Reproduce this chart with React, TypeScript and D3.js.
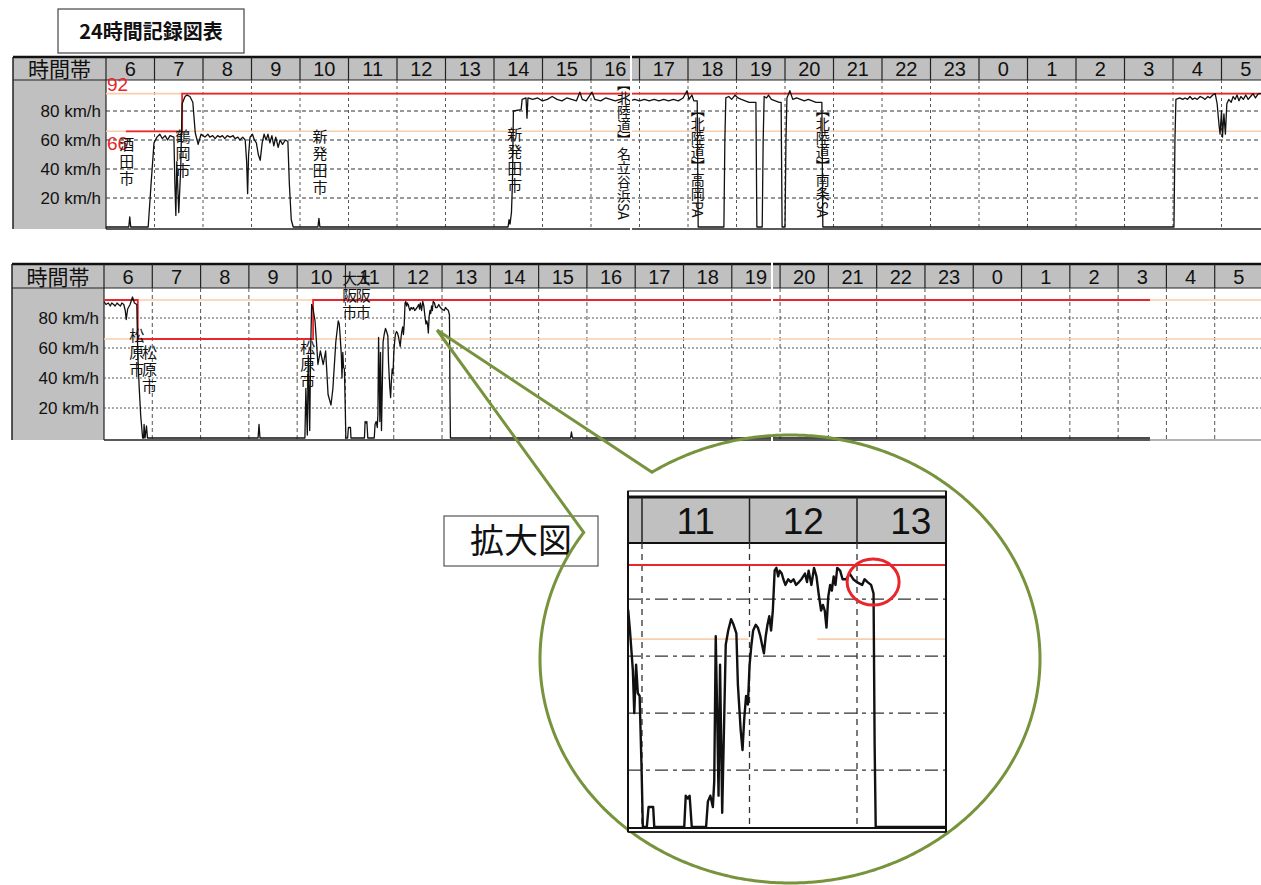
import React from 'react';
import * as d3 from 'd3';

const W = 1261;
const H = 885;

// hour columns start at 6 o'clock and run for 24 hours (6..29 = 6:00 .. 5:00 next day)
const hourLabels = d3.range(24).map(i => String((6 + i) % 24));
const speedTicks = [20, 40, 60, 80];

// upper record: [clock hour, km/h]
const topTrace: [number, number][] = [
  [6.0, 0], [6.47, 0], [6.49, 7], [6.51, 0], [6.87, 0], [6.93, 30], [6.99, 58], [7.05, 62], [7.11, 64],
  [7.16, 61], [7.22, 63], [7.27, 60], [7.32, 63], [7.4, 62], [7.42, 30], [7.44, 8], [7.46, 45], [7.5, 10],
  [7.54, 40], [7.57, 85], [7.63, 90], [7.67, 91], [7.73, 90], [7.79, 86], [7.84, 65], [7.9, 57], [7.96, 64],
  [8.04, 62], [8.1, 64], [8.14, 62], [8.2, 63], [8.25, 61], [8.3, 63], [8.35, 62], [8.4, 63], [8.45, 61],
  [8.5, 63], [8.56, 62], [8.62, 63], [8.66, 61], [8.72, 62], [8.76, 60], [8.82, 62], [8.87, 60], [8.9, 45],
  [8.92, 23], [8.94, 50], [8.97, 62], [9.02, 64], [9.06, 60], [9.1, 58], [9.14, 50], [9.18, 46], [9.22, 58],
  [9.26, 64], [9.3, 60], [9.34, 64], [9.38, 58], [9.42, 63], [9.46, 56], [9.5, 62], [9.55, 55], [9.59, 60],
  [9.64, 57], [9.7, 60], [9.75, 59], [9.78, 30], [9.82, 5], [9.86, 0], [10.37, 0], [10.39, 6], [10.41, 0],
  [14.29, 0], [14.31, 5], [14.33, 2], [14.36, 10], [14.38, 30], [14.4, 80], [14.56, 81], [14.58, 88],
  [14.66, 89], [14.68, 75], [14.7, 89], [14.8, 88], [14.9, 89], [15.0, 87], [15.1, 88], [15.2, 90],
  [15.3, 88], [15.4, 87], [15.5, 89], [15.6, 88], [15.7, 87], [15.77, 93], [15.82, 88], [15.9, 87],
  [16.02, 93], [16.08, 88], [16.2, 87], [16.3, 89], [16.4, 88], [16.5, 87], [16.6, 88], [16.7, 89],
  [16.8, 87], [16.9, 88], [17.0, 87], [17.1, 88], [17.2, 87], [17.3, 88], [17.4, 87], [17.5, 88],
  [17.6, 87], [17.7, 88], [17.8, 87], [17.9, 89], [17.98, 94], [18.02, 88], [18.08, 91], [18.12, 87],
  [18.19, 87], [18.21, 0], [18.74, 0], [18.76, 60], [18.78, 89], [18.84, 90], [18.9, 88], [18.97, 91],
  [19.03, 89], [19.1, 88], [19.18, 87], [19.26, 86], [19.36, 86], [19.4, 86], [19.42, 0], [19.53, 0],
  [19.55, 60], [19.57, 90], [19.62, 89], [19.66, 91], [19.72, 88], [19.8, 87], [19.88, 86], [19.92, 86],
  [19.94, 0], [20.0, 0], [20.02, 60], [20.04, 89], [20.1, 94], [20.16, 88], [20.24, 89], [20.32, 88],
  [20.4, 87], [20.48, 88], [20.56, 87], [20.64, 86], [20.72, 86], [20.76, 86], [20.78, 0], [28.02, 0],
  [28.04, 60], [28.06, 88], [28.14, 89], [28.2, 88], [28.25, 89], [28.3, 88], [28.35, 90], [28.4, 88],
  [28.45, 89], [28.5, 88], [28.56, 90], [28.62, 89], [28.66, 88], [28.72, 90], [28.76, 89], [28.82, 91],
  [28.87, 92], [28.91, 85], [28.95, 70], [28.97, 64], [29.0, 80], [29.02, 62], [29.05, 78], [29.08, 64],
  [29.11, 85], [29.15, 88], [29.2, 86], [29.24, 90], [29.28, 88], [29.32, 91], [29.36, 87], [29.4, 90],
  [29.45, 88], [29.5, 91], [29.55, 88], [29.6, 90], [29.65, 92], [29.7, 89], [29.76, 92], [29.85, 92],
];

// lower record: [clock hour, km/h]
const bottomTrace: [number, number][] = [
  [6.0, 91], [6.04, 89], [6.09, 90], [6.13, 88], [6.16, 90], [6.2, 89], [6.23, 88], [6.27, 90], [6.3, 89],
  [6.34, 88], [6.37, 90], [6.41, 89], [6.44, 85], [6.46, 79], [6.49, 86], [6.54, 89], [6.59, 94], [6.63, 90],
  [6.68, 89], [6.7, 55], [6.73, 33], [6.76, 15], [6.8, 0], [6.82, 0], [6.83, 9], [6.85, 0], [6.88, 8],
  [6.9, 0], [9.19, 0], [9.21, 9], [9.23, 0], [10.16, 0], [10.18, 33], [10.21, 2], [10.23, 55], [10.26, 5],
  [10.28, 60], [10.3, 89], [10.33, 86], [10.37, 78], [10.4, 64], [10.43, 49], [10.48, 58], [10.54, 49],
  [10.59, 58], [10.64, 29], [10.7, 22], [10.74, 33], [10.8, 64], [10.85, 78], [10.872, 76], [10.888, 69],
  [10.915, 55], [10.928, 40], [10.945, 57], [10.961, 47], [10.978, 46], [10.995, 22], [11.008, 0],
  [11.045, 0], [11.061, 7], [11.104, 7], [11.114, 0], [11.393, 0], [11.407, 11], [11.427, 10], [11.443, 11],
  [11.463, 0], [11.596, 0], [11.613, 9], [11.636, 11], [11.659, 7], [11.672, 16], [11.686, 67], [11.702, 34],
  [11.712, 11], [11.726, 57], [11.746, 5], [11.759, 28], [11.779, 64], [11.802, 69], [11.829, 73],
  [11.852, 71], [11.878, 68], [11.892, 50], [11.918, 34], [11.935, 27], [11.951, 38], [11.968, 46],
  [11.985, 43], [12.001, 57], [12.018, 64], [12.034, 69], [12.058, 71], [12.078, 70], [12.101, 67],
  [12.117, 64], [12.134, 61], [12.151, 67], [12.167, 71], [12.184, 74], [12.201, 69], [12.217, 76],
  [12.234, 90], [12.25, 91], [12.267, 88], [12.28, 90], [12.3, 89], [12.315, 87], [12.334, 85], [12.36, 87],
  [12.383, 86], [12.41, 87], [12.433, 85], [12.46, 86], [12.483, 87], [12.516, 89], [12.535, 86],
  [12.55, 90], [12.576, 85], [12.6, 91], [12.623, 88], [12.643, 82], [12.666, 76], [12.683, 78], [12.7, 76],
  [12.716, 70], [12.733, 81], [12.75, 85], [12.766, 83], [12.783, 88], [12.8, 85], [12.816, 91],
  [12.843, 90], [12.866, 87], [12.899, 87], [12.932, 89], [12.965, 87], [12.998, 86], [13.048, 85],
  [13.07, 87], [13.098, 86], [13.131, 85], [13.154, 82], [13.164, 29], [13.174, 0], [15.66, 0], [15.68, 4],
  [15.7, 0], [27.66, 0],
];

// posted limits as steps: [from hour, km/h]
const topLimits: [number, number][] = [[6.41, 66], [7.57, 92], [30, 92]];
const bottomLimits: [number, number][] = [[6.0, 92], [6.7, 66], [10.33, 92], [27.66, 92]];
const limitLevels = [92, 66];

// place names along the record: hour and the km/h level where the text begins
const topPlaces = [
  { name: '酒田市', hour: 6.43, speed: 62 },
  { name: '鶴岡市', hour: 7.59, speed: 67.5 },
  { name: '新発田市', hour: 10.41, speed: 67.5 },
  { name: '新発田市', hour: 14.43, speed: 69 },
  { name: '【北陸道】名立谷浜SA', hour: 16.68, speed: 103.5 },
  { name: '【北陸道】高岡PA', hour: 18.2, speed: 85.5 },
  { name: '【北陸道】南条SA', hour: 20.78, speed: 85.5 },
];
const bottomPlaces = [
  { name: '松原市', hour: 6.68, speed: 73.7 },
  { name: '松原市', hour: 6.94, speed: 62.3 },
  { name: '松原市', hour: 10.22, speed: 65.7 },
  { name: '大阪市', hour: 11.09, speed: 111.7 },
  { name: '大阪市', hour: 11.37, speed: 111.7 },
];

// magnified window
const insetHours = [11, 12, 13];
const insetGuideSpans: [number, number][] = [[10.87, 11.99], [12.63, 13.83]];

const JP = "'Noto Sans CJK JP', 'Noto Sans', sans-serif";
const NUM = "'Liberation Sans Narrow', 'Liberation Sans', Arial, sans-serif";
const SANS = "'Liberation Sans', Arial, sans-serif";
const RED = '#e8262b';
const PALE = '#f8cfae';
const GREEN = '#77933c';

type Geo = {
  left: number; lab: number; right: number; hTop: number; hBot: number; bot: number;
  x0: number; x1: number; y0: number; y1: number; breakX: number;
};

// tategaki label (vertical writing)
function VerticalLabel({ name, x, y }: { name: string; x: number; y: number }) {
  const road = name.startsWith('【');
  return (
    <text x={x} y={y} fontFamily={JP} fontSize={road ? 14 : 15} letterSpacing={road ? 0 : 2} fill="#111"
      style={{ writingMode: 'vertical-rl' } as React.CSSProperties}>
      {name}
    </text>
  );
}

function Panel({ id, g, trace, limits, places, grid, limitText, zeroEnd }: {
  id: string; g: Geo; trace: [number, number][]; limits: [number, number][];
  places: { name: string; hour: number; speed: number }[];
  grid: { h: string; v: string; hc: string }; limitText: boolean; zeroEnd?: number;
}) {
  const x = d3.scaleLinear().domain([6, 30]).range([g.x0, g.x1]);
  const y = d3.scaleLinear().domain([0, 100]).range([g.y0, g.y1]);
  const line = d3.line<[number, number]>().x(d => x(d[0])).y(d => y(d[1]));
  const step = d3.line<[number, number]>().x(d => x(d[0])).y(d => y(d[1])).curve(d3.curveStepAfter);
  const bounds = d3.range(7, 30);
  const bottomBlackEnd = zeroEnd !== undefined ? x(zeroEnd) : g.right;

  return (
    <g>
      <defs>
        <clipPath id={id}>
          <rect x={g.lab} y={g.hBot} width={g.right - g.lab} height={g.bot - g.hBot + 1} />
        </clipPath>
      </defs>
      {/* header band */}
      <rect x={g.left} y={g.hTop} width={g.right - g.left} height={g.hBot - g.hTop} fill="#c0c0c0" />
      <rect x={g.left} y={g.hBot} width={g.lab - g.left} height={g.bot - g.hBot} fill="#c0c0c0" />
      <line x1={g.left} x2={g.right} y1={g.hTop} y2={g.hTop} stroke="#111" strokeWidth={2.5} />
      <line x1={g.left} x2={g.right} y1={g.hBot} y2={g.hBot} stroke="#222" strokeWidth={1.2} />
      <line x1={g.left} x2={g.left} y1={g.hTop} y2={g.bot} stroke="#222" strokeWidth={1.5} />
      <line x1={g.lab} x2={g.lab} y1={g.hTop} y2={g.bot} stroke="#222" strokeWidth={1.2} />
      {bounds.map(h => (
        <line key={'hs' + h} x1={x(h)} x2={x(h)} y1={g.hTop} y2={g.hBot} stroke="#222" strokeWidth={1.2} />
      ))}
      <text x={(g.left + g.lab) / 2} y={g.hBot - 3.5} textAnchor="middle" fontFamily={JP} fontSize={21} fill="#111">時間帯</text>
      {hourLabels.map((t, i) => (
        <text key={'hl' + i} x={x(6 + i + 0.5)} y={g.hBot - 4} textAnchor="middle" fontFamily={NUM} fontSize={20} fill="#111">{t}</text>
      ))}
      {speedTicks.map(v => (
        <text key={'yl' + v} x={g.lab - 5} y={y(v) + 6} textAnchor="end" fontFamily={SANS} fontSize={17} fill="#111">{v} km/h</text>
      ))}

      <g clipPath={`url(#${id})`}>
        {/* grid */}
        {speedTicks.map(v => (
          <line key={'gh' + v} x1={g.lab} x2={g.right} y1={y(v)} y2={y(v)} stroke={grid.hc} strokeWidth={1} strokeDasharray={grid.h} />
        ))}
        {bounds.map(h => (
          <line key={'gv' + h} x1={x(h)} x2={x(h)} y1={g.hBot} y2={g.bot} stroke="#555" strokeWidth={1} strokeDasharray={grid.v} />
        ))}
        {/* pale reference levels */}
        {limitLevels.map(v => (
          <line key={'pl' + v} x1={g.lab} x2={g.right} y1={y(v)} y2={y(v)} stroke={PALE} strokeWidth={1.6} />
        ))}
        <path d={step(limits) ?? ''} fill="none" stroke={RED} strokeWidth={1.8} />
        <path d={line(trace) ?? ''} fill="none" stroke="#111" strokeWidth={1.3} strokeLinejoin="round" />
      </g>

      <line x1={g.lab} x2={bottomBlackEnd} y1={g.bot} y2={g.bot} stroke="#222" strokeWidth={1.5} />
      {zeroEnd !== undefined && (
        <line x1={bottomBlackEnd} x2={g.right} y1={g.bot} y2={g.bot} stroke="#999" strokeWidth={1.5} />
      )}

      {limitText && (
        <g fontFamily={NUM} fontSize={19} fill={RED}>
          <text x={g.lab + 1} y={y(92) - 3}>92</text>
          <text x={g.lab + 1} y={y(66) + 19}>66</text>
        </g>
      )}

      {places.map((p, i) => (
        <VerticalLabel key={'pn' + i} name={p.name} x={x(p.hour)} y={y(p.speed)} />
      ))}

      {/* seam between the two pasted halves */}
      <line x1={g.breakX} x2={g.breakX} y1={g.hTop - 2} y2={g.bot + 2} stroke="#fff" strokeWidth={2} />
    </g>
  );
}

function Inset() {
  const L = 628, R = 946, T = 491, HB = 543, B = 829;
  const x = d3.scaleLinear().domain([11, 13]).range([642, 857]);
  const y = d3.scaleLinear().domain([0, 92]).range([827, 565]);
  const line = d3.line<[number, number]>().x(d => x(d[0])).y(d => y(d[1]));
  return (
    <g>
      <defs>
        <clipPath id="inset-clip">
          <rect x={L} y={HB} width={R - L} height={B - HB} />
        </clipPath>
      </defs>
      <rect x={L} y={T} width={R - L} height={B - T + 3} fill="#fff" stroke="#222" strokeWidth={1.2} />
      <rect x={L} y={T + 5} width={R - L} height={HB - T - 5} fill="#c0c0c0" />
      <line x1={L} x2={R} y1={T + 6} y2={T + 6} stroke="#111" strokeWidth={3} />
      <line x1={L} x2={R} y1={HB} y2={HB} stroke="#111" strokeWidth={2} />
      {insetHours.map(h => (
        <line key={'is' + h} x1={x(h)} x2={x(h)} y1={T + 6} y2={HB} stroke="#222" strokeWidth={1.5} />
      ))}
      {insetHours.map(h => (
        <text key={'it' + h} x={x(h + 0.5)} y={HB - 9} textAnchor="middle" fontFamily={SANS} fontSize={37} fill="#111">{h}</text>
      ))}
      <g clipPath="url(#inset-clip)">
        {speedTicks.map(v => (
          <line key={'ih' + v} x1={L} x2={R} y1={y(v)} y2={y(v)} stroke="#333" strokeWidth={1.3} strokeDasharray="13,5,4,5" />
        ))}
        {insetHours.map(h => (
          <line key={'iv' + h} x1={x(h)} x2={x(h)} y1={HB} y2={B} stroke="#333" strokeWidth={1.3} strokeDasharray="6,5" />
        ))}
        {insetGuideSpans.map(([a, b], i) => (
          <line key={'ig' + i} x1={x(a)} x2={x(b)} y1={y(66)} y2={y(66)} stroke={PALE} strokeWidth={1.8} />
        ))}
        <line x1={L} x2={R} y1={y(92)} y2={y(92)} stroke={RED} strokeWidth={2} />
        <path d={line(bottomTrace) ?? ''} fill="none" stroke="#111" strokeWidth={2.4} strokeLinejoin="round" />
      </g>
      <line x1={L} x2={R} y1={B - 1} y2={B - 1} stroke="#111" strokeWidth={2} />
      <line x1={L} x2={R} y1={B + 3} y2={B + 3} stroke="#111" strokeWidth={1.5} />
      <line x1={L} x2={L} y1={T} y2={B + 3} stroke="#111" strokeWidth={2} />
      <line x1={R} x2={R} y1={T} y2={B + 3} stroke="#111" strokeWidth={2} />
      <ellipse cx={x(13.15)} cy={y(86)} rx={26} ry={23} fill="none" stroke={RED} strokeWidth={3} />
    </g>
  );
}

export default function App() {
  const topGeo: Geo = { left: 13, lab: 106, right: W, hTop: 57, hBot: 80, bot: 229, x0: 106, x1: 1270, y0: 227, y1: 82, breakX: 631 };
  const botGeo: Geo = { left: 12, lab: 104, right: W, hTop: 264, hBot: 288, bot: 440, x0: 104, x1: 1263, y0: 438, y1: 288, breakX: 772 };

  // speech-bubble outline of the magnifier
  const apex: [number, number] = [437, 330];
  const cx = 790, cy = 659, rx = 250, ry = 224;
  const t0 = (-123.5 * Math.PI) / 180, t1 = (214.4 * Math.PI) / 180;
  const ring = d3.range(t0, t1, 0.01).concat([t1]).map(t => [cx + rx * Math.cos(t), cy + ry * Math.sin(t)] as [number, number]);
  const bubble = d3.line()([apex, ...ring, apex]) ?? '';

  return (
    <svg width={W} height={H} style={{ position: 'absolute', left: 0, top: 0, background: '#fff' }}>
      <rect width={W} height={H} fill="#fff" />
      <rect x={58} y={9} width={186} height={44} fill="#fff" stroke="#444" strokeWidth={1.2} />
      <text x={151} y={39} textAnchor="middle" fontFamily={JP} fontWeight={700} fontSize={20} fill="#111">24時間記録図表</text>

      <Panel id="top-clip" g={topGeo} trace={topTrace} limits={topLimits} places={topPlaces}
        grid={{ h: '4,3', v: '3,3', hc: '#333' }} limitText={true} />
      <Panel id="bot-clip" g={botGeo} trace={bottomTrace} limits={bottomLimits} places={bottomPlaces}
        grid={{ h: '2,2', v: '4,3', hc: '#555' }} limitText={false} zeroEnd={27.66} />

      <rect x={444} y={516} width={154} height={50} fill="#fff" stroke="#555" strokeWidth={1.2} />
      <text x={521} y={553} textAnchor="middle" fontFamily={JP} fontSize={34} fill="#111">拡大図</text>

      <path d={bubble} fill="none" stroke={GREEN} strokeWidth={3} strokeLinejoin="miter" />
      <Inset />
    </svg>
  );
}
